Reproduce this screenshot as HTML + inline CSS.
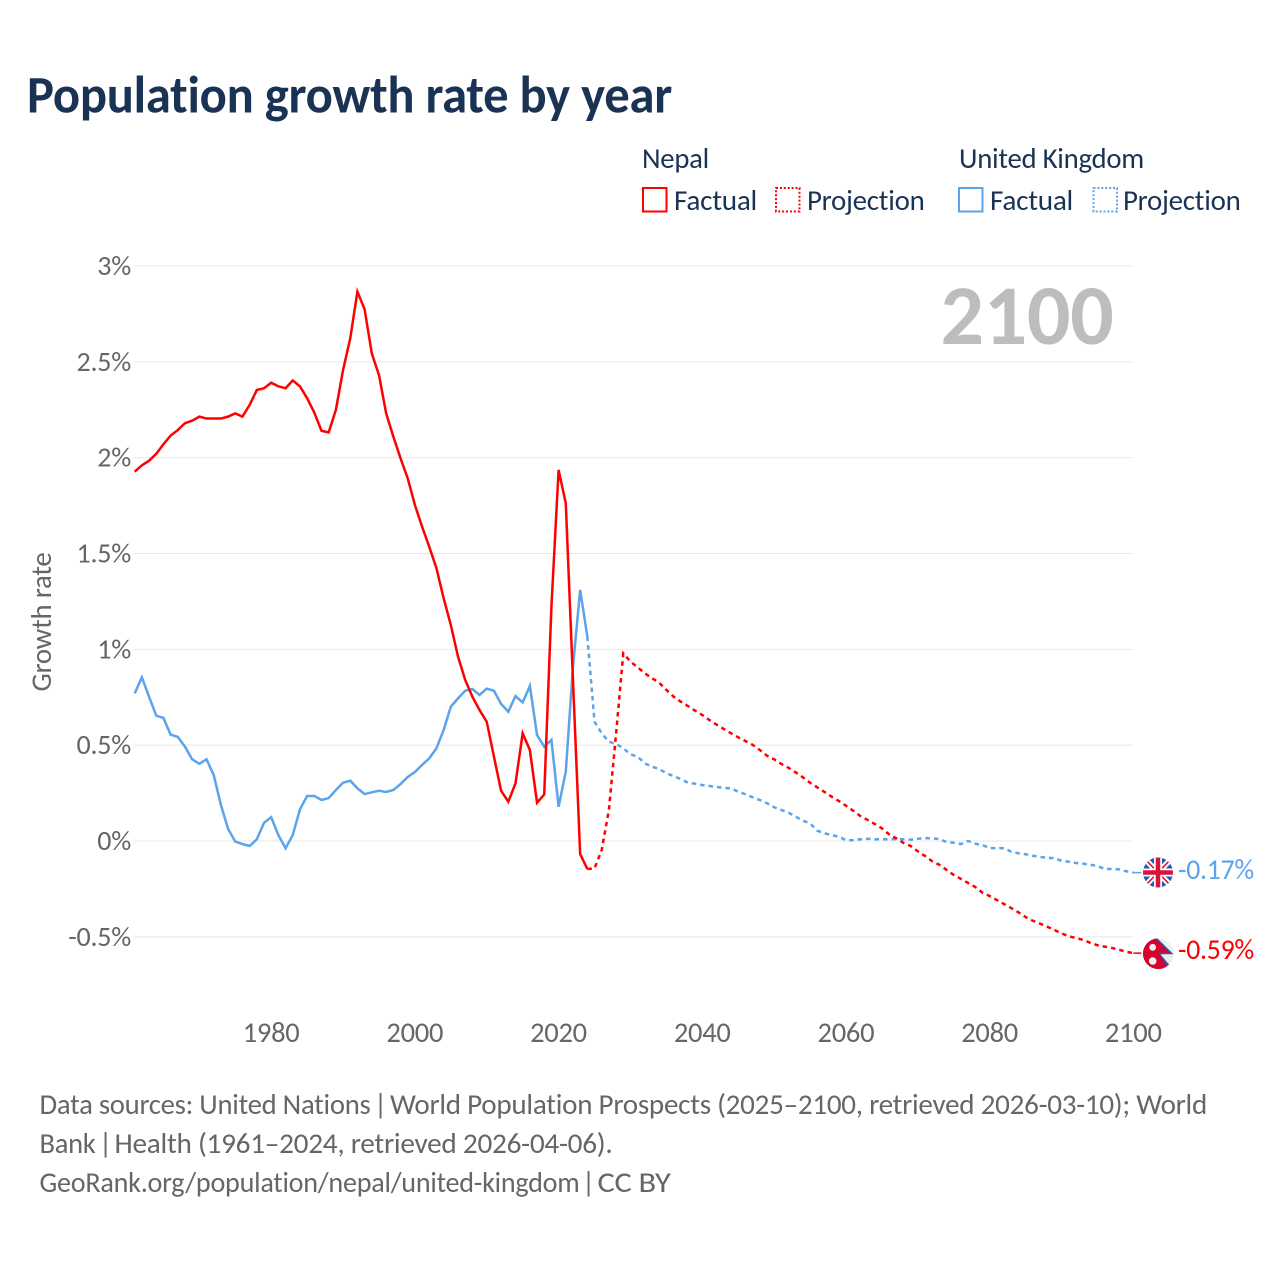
<!DOCTYPE html>
<html lang="en">
<head>
<meta charset="utf-8">
<title>Population growth rate by year</title>
<style>
  html, body { margin: 0; padding: 0; background: #ffffff; }
  svg { display: block; font-family: "Carlito", "Lato", "Liberation Sans", sans-serif; font-variant-ligatures: none; letter-spacing: -0.016em; }
</style>
</head>
<body>
<svg id="chart" xmlns="http://www.w3.org/2000/svg" width="1280" height="1280" viewBox="0 0 1280 1280">
  <defs>
    <clipPath id="uk-clip"><circle cx="1158" cy="872.5" r="15"/></clipPath>
    <clipPath id="np-clip"><circle cx="1158.3" cy="953.7" r="15.3"/></clipPath>
  </defs>
  <rect x="0" y="0" width="1280" height="1280" fill="#ffffff"/>
  <text x="27" y="112.5" font-size="53" font-weight="700" fill="#1a3354" textLength="645" lengthAdjust="spacingAndGlyphs">Population growth rate by year</text>

  <g font-size="28.5" fill="#1a3354">
    <text x="642" y="168" textLength="67" lengthAdjust="spacingAndGlyphs">Nepal</text>
    <text x="959" y="168" textLength="185" lengthAdjust="spacingAndGlyphs">United Kingdom</text>
    <rect x="643" y="188" width="23.5" height="23.5" fill="none" stroke="#ff0000" stroke-width="2"/>
    <text x="674" y="210" textLength="83" lengthAdjust="spacingAndGlyphs">Factual</text>
    <rect x="776" y="188" width="23.5" height="23.5" fill="none" stroke="#ff0000" stroke-width="2" stroke-dasharray="2 1.9"/>
    <text x="807" y="210" textLength="117.5" lengthAdjust="spacingAndGlyphs">Projection</text>
    <rect x="959" y="188" width="23.5" height="23.5" fill="none" stroke="#5ba4ec" stroke-width="2"/>
    <text x="990" y="210" textLength="83" lengthAdjust="spacingAndGlyphs">Factual</text>
    <rect x="1093.5" y="188" width="23.5" height="23.5" fill="none" stroke="#5ba4ec" stroke-width="2" stroke-dasharray="2 1.9"/>
    <text x="1123" y="210" textLength="117.5" lengthAdjust="spacingAndGlyphs">Projection</text>
  </g>

  <text transform="translate(51,622) rotate(-90)" text-anchor="middle" font-size="28.5" fill="#666666" textLength="139" lengthAdjust="spacingAndGlyphs">Growth rate</text>
  <text x="940.5" y="344" font-size="85" font-weight="700" fill="#bdbdbd" textLength="173" lengthAdjust="spacingAndGlyphs">2100</text>

  <g id="grid-layer"></g>
  <g id="y-tick-layer"></g>
  <g id="x-tick-layer"></g>
  <g id="series-layer"></g>

  <g clip-path="url(#uk-clip)">
    <rect x="1143" y="857" width="30" height="31" fill="#1f5fb0"/>
    <path d="M1143 857 L1173 888 M1173 857 L1143 888" stroke="#ffffff" stroke-width="5.5"/>
    <path d="M1143 857 L1173 888 M1173 857 L1143 888" stroke="#d8143a" stroke-width="1.6"/>
    <path d="M1158 857 V888 M1143 872.5 H1173" stroke="#ffffff" stroke-width="8"/>
    <path d="M1158 857 V888 M1143 872.5 H1173" stroke="#d8143a" stroke-width="4.5"/>
  </g>
  <g clip-path="url(#np-clip)">
    <rect x="1142" y="938" width="32" height="32" fill="#eeeeee"/>
    <path d="M1142 936 H1155 L1173.5 954.3 H1160.5 L1172 968 L1168 971 H1142 Z" fill="#1f5fb0"/>
    <path d="M1142 937 H1154 L1170 952.8 H1158.5 L1169.5 970 H1142 Z" fill="#d8002e"/>
    <circle cx="1152.7" cy="947.3" r="3.4" fill="#eeeeee"/>
    <circle cx="1152.7" cy="961" r="3.8" fill="#eeeeee"/>
  </g>
  <text x="1178" y="879" font-size="28.5" fill="#5ba4ec" textLength="76" lengthAdjust="spacingAndGlyphs">-0.17%</text>
  <text x="1178" y="959" font-size="28.5" fill="#ff0000" textLength="76" lengthAdjust="spacingAndGlyphs">-0.59%</text>

  <g font-size="28.5" fill="#666666">
    <text x="39.5" y="1114" textLength="331" lengthAdjust="spacingAndGlyphs">Data sources: United Nations</text>
    <text x="374" y="1114">|</text>
    <text x="390" y="1114" textLength="817" lengthAdjust="spacingAndGlyphs">World Population Prospects (2025–2100, retrieved 2026-03-10); World</text>
    <text x="39.5" y="1153" textLength="56" lengthAdjust="spacingAndGlyphs">Bank</text>
    <text x="99" y="1153">|</text>
    <text x="114.5" y="1153" textLength="498" lengthAdjust="spacingAndGlyphs">Health (1961–2024, retrieved 2026-04-06).</text>
    <text x="39.5" y="1192" textLength="540" lengthAdjust="spacingAndGlyphs">GeoRank.org/population/nepal/united-kingdom</text>
    <text x="582" y="1192">|</text>
    <text x="597.5" y="1192" textLength="73" lengthAdjust="spacingAndGlyphs">CC BY</text>
  </g>
</svg>

<script>
const yTickValues = [3, 2.5, 2, 1.5, 1, 0.5, 0, -0.5];
const yTickLabels = ["3%", "2.5%", "2%", "1.5%", "1%", "0.5%", "0%", "-0.5%"];
const xTickYears = [1980, 2000, 2020, 2040, 2060, 2080, 2100];
const factualStartYear = 1961;
const projectionStartYear = 2024;

// 1961–2024
const nepalFactual = [
  1.927, 1.96, 1.984, 2.02, 2.07, 2.115, 2.144, 2.18, 2.193,
  2.214, 2.204, 2.204, 2.204, 2.214, 2.231, 2.214, 2.275, 2.353, 2.362,
  2.391, 2.372, 2.362, 2.403, 2.372, 2.31, 2.235, 2.14, 2.132, 2.249,
  2.457, 2.622, 2.866, 2.774, 2.544, 2.431, 2.231, 2.11, 1.997, 1.892,
  1.753, 1.64, 1.535, 1.423, 1.266, 1.127, 0.962, 0.84, 0.753, 0.683,
  0.622, 0.44, 0.262, 0.205, 0.301, 0.562, 0.475, 0.2, 0.243, 1.222,
  1.936, 1.762, 0.84, -0.068, -0.146
];
// 2024–2100
const nepalProjection = [
  -0.146, -0.143, -0.047, 0.162, 0.56, 0.979,
  0.936, 0.906, 0.875, 0.849, 0.826, 0.788, 0.753, 0.727, 0.704, 0.68,
  0.657, 0.631, 0.607, 0.584, 0.562, 0.541, 0.522, 0.502, 0.475, 0.445,
  0.426, 0.402, 0.382, 0.358, 0.332, 0.304, 0.28, 0.256, 0.231, 0.209,
  0.184, 0.158, 0.13, 0.11, 0.089, 0.066, 0.035, 0.014, -0.01, -0.026,
  -0.054, -0.078, -0.106, -0.124, -0.151, -0.177, -0.198, -0.219, -0.24, -0.27,
  -0.287, -0.308, -0.329, -0.35, -0.372, -0.397, -0.416, -0.431, -0.447, -0.464,
  -0.482, -0.497, -0.506, -0.516, -0.531, -0.544, -0.551, -0.558, -0.567, -0.578,
  -0.585
];
// 1961–2024
const ukFactual = [
  0.77, 0.854, 0.753, 0.654, 0.642, 0.555, 0.543, 0.492, 0.426,
  0.403, 0.426, 0.344, 0.188, 0.063, -0.003, -0.016, -0.026, 0.009, 0.095,
  0.124, 0.031, -0.038, 0.031, 0.165, 0.235, 0.235, 0.214, 0.224, 0.266,
  0.304, 0.315, 0.275, 0.245, 0.254, 0.262, 0.256, 0.266, 0.297, 0.334,
  0.36, 0.397, 0.431, 0.484, 0.579, 0.701, 0.744, 0.784, 0.793, 0.762,
  0.795, 0.784, 0.715, 0.675, 0.756, 0.723, 0.809, 0.553, 0.492, 0.527,
  0.179, 0.362, 0.909, 1.31, 1.066
];
// 2024–2100
const ukProjection = [
  1.066, 0.622, 0.562, 0.518, 0.506, 0.484,
  0.452, 0.44, 0.405, 0.388, 0.376, 0.353, 0.339, 0.323, 0.304, 0.299,
  0.292, 0.287, 0.282, 0.277, 0.275, 0.257, 0.244, 0.228, 0.214, 0.197,
  0.176, 0.162, 0.148, 0.127, 0.106, 0.092, 0.054, 0.04, 0.031, 0.022,
  0.005, 0.004, 0.009, 0.012, 0.009, 0.009, 0.009, 0.01, 0.009, 0.007,
  0.012, 0.015, 0.014, 0.01, -0.005, -0.009, -0.016, 0, -0.014, -0.021,
  -0.037, -0.037, -0.038, -0.056, -0.064, -0.069, -0.077, -0.083, -0.087, -0.09,
  -0.103, -0.108, -0.115, -0.118, -0.124, -0.13, -0.146, -0.146, -0.148, -0.158,
  -0.165
];

const svgNS = "http://www.w3.org/2000/svg";
function xScale(year) { return 1133.4 - (2100 - year) * 7.185; }
function yScale(value) { return 841 - value * 191.67; }

const gridLayer = document.getElementById("grid-layer");
const yTickLayer = document.getElementById("y-tick-layer");
const xTickLayer = document.getElementById("x-tick-layer");
const seriesLayer = document.getElementById("series-layer");

yTickValues.forEach(function (value, i) {
  const line = document.createElementNS(svgNS, "line");
  
  
  line.setAttribute("x1", 134);
  line.setAttribute("x2", 1133);
  line.setAttribute("y1", yScale(value));
  line.setAttribute("y2", yScale(value));
  line.setAttribute("stroke", "#e8e8e8");
  line.setAttribute("stroke-width", 1);
  gridLayer.appendChild(line);

  const label = document.createElementNS(svgNS, "text");
  
  
  label.setAttribute("x", 131);
  label.setAttribute("y", yScale(value) + 9);
  label.setAttribute("text-anchor", "end");
  label.setAttribute("font-size", 28);
  label.setAttribute("fill", "#666666");
  label.textContent = yTickLabels[i];
  yTickLayer.appendChild(label);
});

xTickYears.forEach(function (year) {
  const label = document.createElementNS(svgNS, "text");
  
  
  label.setAttribute("x", xScale(year) - 0.1);
  label.setAttribute("y", 1042);
  label.setAttribute("text-anchor", "middle");
  label.setAttribute("font-size", 28.5);
  label.setAttribute("fill", "#666666");
  label.textContent = String(year);
  xTickLayer.appendChild(label);
});

function linePoints(values, startYear) {
  return values.map(function (value, i) {
    return xScale(startYear + i).toFixed(2) + "," + yScale(value).toFixed(2);
  }).join(" ");
}

function drawProjection(values, color, name) {
  const path = document.createElementNS(svgNS, "polyline");
  
  
  path.setAttribute("points", linePoints(values, projectionStartYear));
  path.setAttribute("fill", "none");
  path.setAttribute("stroke", color);
  path.setAttribute("stroke-width", 2.5);
  path.setAttribute("stroke-dasharray", "4.5 4");
  seriesLayer.appendChild(path);
}

function drawFactual(values, color, name) {
  const path = document.createElementNS(svgNS, "polyline");
  
  
  path.setAttribute("points", linePoints(values, factualStartYear));
  path.setAttribute("fill", "none");
  path.setAttribute("stroke", color);
  path.setAttribute("stroke-width", 2.5);
  seriesLayer.appendChild(path);
}

function drawConnector(values, color, name) {
  const endValue = values[values.length - 1];
  const line = document.createElementNS(svgNS, "line");
  
  
  line.setAttribute("x1", xScale(2100));
  line.setAttribute("x2", xScale(2100) + 8);
  line.setAttribute("y1", yScale(endValue));
  line.setAttribute("y2", yScale(endValue));
  line.setAttribute("stroke", color);
  line.setAttribute("stroke-width", 1.5);
  seriesLayer.appendChild(line);
}

drawProjection(ukProjection, "#5ba4ec", "uk-projection-line");
drawFactual(ukFactual, "#5ba4ec", "uk-factual-line");
drawProjection(nepalProjection, "#ff0000", "nepal-projection-line");
drawFactual(nepalFactual, "#ff0000", "nepal-factual-line");
drawConnector(ukProjection, "#5ba4ec", "uk-end-connector");
drawConnector(nepalProjection, "#ff0000", "nepal-end-connector");
</script>
</body>
</html>
